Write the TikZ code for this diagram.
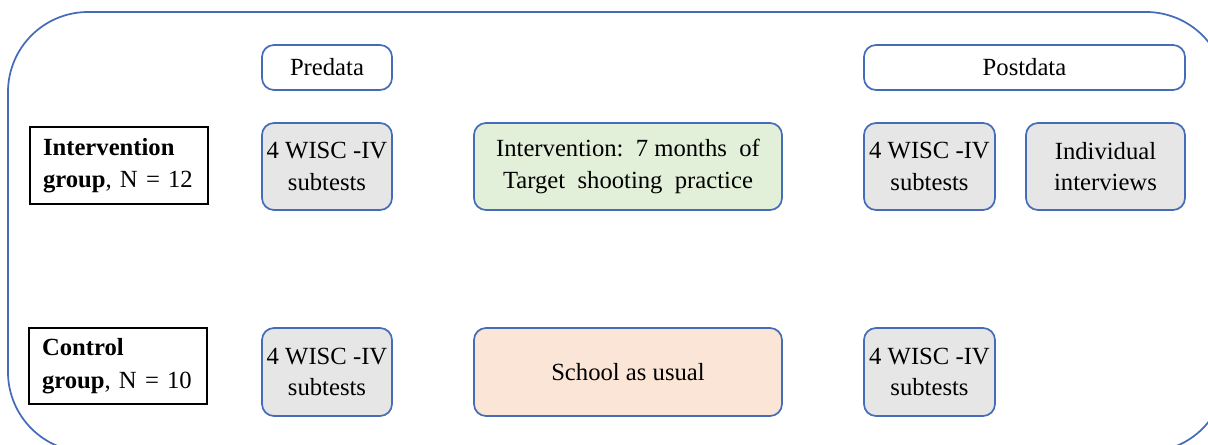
\documentclass[tikz,border=0pt]{standalone}
\usepackage{fontspec}
\setmainfont{Liberation Serif}
\definecolor{bblue}{RGB}{68,108,184}
\definecolor{gfill}{RGB}{231,230,230}
\definecolor{grfill}{RGB}{226,240,217}
\definecolor{orfill}{RGB}{251,229,214}
\begin{document}
\begin{tikzpicture}[x=0.75pt,y=-0.75pt,
  every node/.style={font=\fontsize{18.5}{23.5}\selectfont, inner sep=0pt, align=center},
  rbox/.style={draw=bblue, line width=1.3pt, rounded corners=9pt},
  hdr/.style={rbox, fill=white, minimum height=33.75pt},
  cell/.style={rbox, minimum height=65.25pt},
  wisc/.style={cell, fill=gfill, minimum width=97.5pt},
  grp/.style={draw=black, line width=1.1pt, minimum width=133.5pt, text width=114pt, align=left}]
\useasboundingbox (0,0) rectangle (1208,444);
\begin{scope}
\clip (0,0) rectangle (1208,444);
\draw[bblue, line width=1.3pt, rounded corners=60pt] (8,12) rectangle (1226,452);
\end{scope}
\node[hdr, minimum width=97.5pt] (pre) at (327,67.5) {Predata};
\node[hdr, minimum width=240.75pt] (post) at (1024.5,67.5) {Postdata};
\node[grp, minimum height=57.75pt] (ig) at (119,165.5) {\textbf{Intervention}\\[1pt]\textbf{group}, N = 12};
\node[grp, minimum height=57pt] (cg) at (118,366) {\textbf{Control}\\[1pt]\textbf{group}, N = 10};
\node[wisc] (w1) at (327,166.5) {4 WISC -IV\\subtests};
\node[cell, fill=grfill, minimum width=231pt] (iv) at (628,166.5) {Intervention:\ \ 7 months\ \ of\\Target\ \ shooting\ \ practice};
\node[wisc, minimum width=98.25pt] (w2) at (929.5,166.5) {4 WISC -IV\\subtests};
\node[cell, fill=gfill, minimum width=119.25pt] (ind) at (1105.5,166.5) {Individual\\interviews};
\node[wisc, minimum height=66pt] (w3) at (327,372) {4 WISC -IV\\subtests};
\node[cell, fill=orfill, minimum width=231pt, minimum height=66pt] (sc) at (628,372) {School\ as\ usual};
\node[wisc, minimum width=98.25pt, minimum height=66pt] (w4) at (929.5,372) {4 WISC -IV\\subtests};
\end{tikzpicture}
\end{document}
